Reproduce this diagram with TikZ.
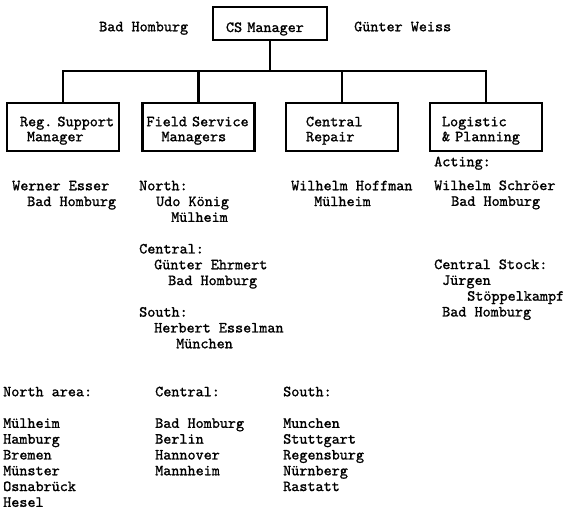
\documentclass[tikz,border=0pt]{standalone}
\usepackage{fontspec}
\usepackage{tikz}

% typewriter look of the chart (slightly heavier than plain LM Mono)
\newfontfamily\typer{lmmono10-regular.otf}[FakeBold=1.2]
\newcommand\chartfont{\typer\fontsize{15.4}{15.8}\selectfont}
\newcommand\boxfont{\typer\fontsize{15.4}{15}\selectfont}

\tikzset{
  orgbox/.style={draw, line width=2.2pt, minimum width=112pt, minimum height=48pt,
    inner xsep=4pt, text width=104pt, align=left, font=\boxfont,
    execute at begin node=\rule{0pt}{17pt}},
  wire/.style={line width=2.2pt},
  blk/.style={anchor=north west, inner sep=0pt, align=left, font=\chartfont}
}

\begin{document}
\begin{tikzpicture}[x=1pt, y=-1pt]
    % page of 565 x 510, y counts downwards
    \useasboundingbox (0,0) rectangle (565,510);
    \def\boxy{127}   % centre line of the four department boxes
    \def\gap{15.8pt} % one empty typed line

    % head of the organisation
    \node[orgbox, minimum width=114pt, minimum height=33pt, text width=106pt,
        text depth=0pt, execute at begin node=\rule{0pt}{14pt}] (cs) at (270,23.5)
        {\hspace*{9pt}CS~Manager};
    \node[blk] (hq) at (99,20) {\strut Bad Homburg};
    \node[blk] (head) at (354,20) {\strut G\"unter Weiss};

    % the four departments
    \node[orgbox] (rsm) at (63,\boxy) {\hspace*{9pt}Reg.~Support\\\hspace*{16pt}Manager};
    \node[orgbox] (fsm) at (198.5,\boxy) {Field~Service\\\hspace*{15pt}Managers};
    \node[orgbox] (cr) at (342,\boxy) {\hspace*{16pt}Central\\\hspace*{16pt}Repair};
    \node[orgbox] (lp) at (486,\boxy) {\hspace*{8pt}Logistic\\\hspace*{8pt}\&~Planning};

    % connectors
    \coordinate (bus) at (270,71);
    \draw[wire] (cs.south) -- (bus);
    \draw[wire] (rsm.north) |- (bus) -| (lp.north);
    \draw[wire] (fsm.north) -- (fsm.north |- bus);
    \draw[wire] (cr.north) -- (cr.north |- bus);

    % people under each box
    \node[blk] (rsmstaff) at (12,179) {\strut Werner Esser\\\hspace*{15pt}Bad Homburg};
    \node[blk] (fsmstaff) at (139,179) {\strut North:\\
        \hspace*{17pt}Udo K\"onig\\
        \hspace*{32pt}M\"ulheim\\[\gap]
        Central:\\
        \hspace*{15pt}G\"unter Ehrmert\\
        \hspace*{29pt}Bad Homburg\\[\gap]
        South:\\
        \hspace*{15pt}Herbert Esselman\\
        \hspace*{37pt}M\"unchen};
    \node[blk] (crstaff) at (291,179) {\strut Wilhelm Hoffman\\\hspace*{23pt}M\"ulheim};
    \node[blk] (lpstaff) at (434,155) {\strut Acting:\\[8pt]
        Wilhelm Schr\"oer\\
        \hspace*{17pt}Bad Homburg\\[47.4pt]
        Central Stock:\\
        \hspace*{8pt}J\"urgen\\
        \hspace*{33pt}St\"oppelkampf\\
        \hspace*{8pt}Bad Homburg};

    % areas and their cities
    \node[blk] (northarea) at (3,385) {\strut North area:\\[\gap]
        M\"ulheim\\ Hamburg\\ Bremen\\ M\"unster\\ Osnabr\"uck\\ Hesel};
    \node[blk] (centralarea) at (155,385) {\strut Central:\\[\gap]
        Bad Homburg\\ Berlin\\ Hannover\\ Mannheim};
    \node[blk] (southarea) at (283,385) {\strut South:\\[\gap]
        Munchen\\ Stuttgart\\ Regensburg\\ N\"urnberg\\ Rastatt};
\end{tikzpicture}
\end{document}
